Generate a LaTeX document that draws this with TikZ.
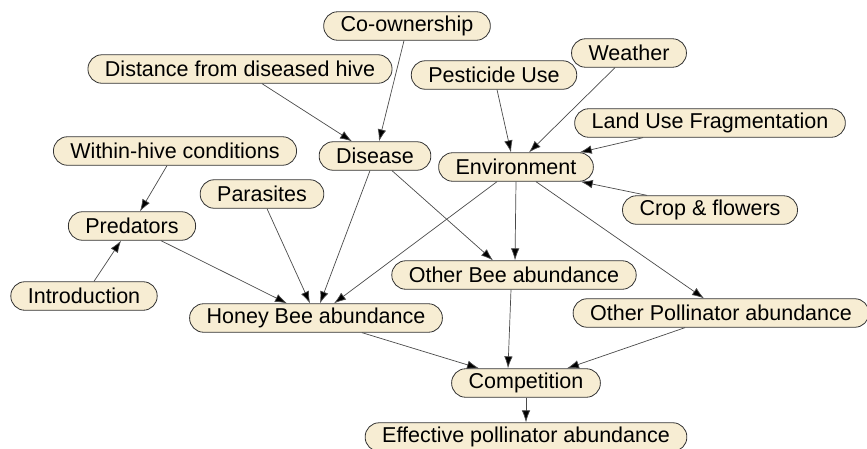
\documentclass[tikz,border=0pt]{standalone}
\usepackage{fontspec}
\setmainfont{Liberation Sans}
\usetikzlibrary{arrows.meta}
\definecolor{boxfill}{HTML}{F7EDD3}
\definecolor{boxline}{HTML}{333333}
\definecolor{linkline}{HTML}{4A4A4A}
\tikzset{
  factor/.style={draw=boxline, fill=boxfill, line width=0.8pt,
    rounded corners=14pt, minimum height=28.5pt, inner xsep=17pt, inner ysep=0pt,
    font=\fontsize{21.5}{24}\selectfont, text=black},
  link/.style={draw=linkline, line width=0.7pt,
    -{Latex[length=12pt,width=8.5pt,fill=black]}}
}
\begin{document}
\begin{tikzpicture}[x=1pt,y=-1pt]
\useasboundingbox (0,0) rectangle (867,448);

% factors
\node[factor] (coown)  at (407,26)  {Co-ownership};
\node[factor] (dist)   at (240,69)  {Distance from diseased hive};
\node[factor] (pest)   at (494,75)  {Pesticide Use};
\node[factor] (weath)  at (629,53)  {Weather};
\node[factor] (land)   at (710,123) {Land Use Fragmentation};
\node[factor] (env)    at (516,167) {Environment};
\node[factor] (crop)   at (710,210) {Crop \& flowers};
\node[factor] (within) at (175,151) {Within-hive conditions};
\node[factor] (dis)    at (375,156) {Disease};
\node[factor] (para)   at (262,194) {Parasites};
\node[factor] (pred)   at (132,226) {Predators};
\node[factor] (intro)  at (84,296)  {Introduction};
\node[factor] (honey)  at (316,318) {Honey Bee abundance};
\node[factor] (obee)   at (514,275) {Other Bee abundance};
\node[factor] (opoll)  at (721,313) {Other Pollinator abundance};
\node[factor] (comp)   at (526,383) {Competition};
\node[factor] (eff)    at (526,437) {Effective pollinator abundance};

% influences
\draw[link] ([xshift=-3pt]coown.south) -- ([xshift=4pt]dis.north);
\draw[link] ([xshift=22pt]dist.south) -- ([xshift=-23pt]dis.north);
\draw[link] ([xshift=3pt]pest.south) -- ([xshift=-5pt]env.north);
\draw[link] ([xshift=-14pt]weath.south) -- ([xshift=13pt]env.north);
\draw[link] ([xshift=-67pt]land.south) -- ([xshift=-14pt]env.north east);
\draw[link] ([xshift=-63pt]crop.north) -- ([xshift=-13pt]env.south east);
\draw[link] ([xshift=-8pt]within.south) -- ([xshift=8pt]pred.north);
\draw[link] ([xshift=10pt]intro.north) -- ([xshift=-11pt]pred.south);
\draw[link] ([xshift=29pt]pred.south) -- ([xshift=-29pt]honey.north);
\draw[link] ([xshift=5pt]para.south) -- ([xshift=-6pt]honey.north);
\draw[link] ([xshift=-5pt]dis.south) -- ([xshift=4pt]honey.north);
\draw[link] ([xshift=-19pt]env.south) -- ([xshift=18pt]honey.north);
\draw[link] ([xshift=17pt]dis.south) -- ([xshift=-21pt]obee.north);
\draw[link] (env.south) -- ([xshift=1pt]obee.north);
\draw[link] ([xshift=20pt]env.south) -- ([xshift=-17pt]opoll.north);
\draw[link] ([xshift=46pt]honey.south) -- ([xshift=-47pt]comp.north);
\draw[link] ([xshift=-3pt]obee.south) -- ([xshift=-18pt]comp.north);
\draw[link] ([xshift=-36pt]opoll.south) -- ([xshift=41pt]comp.north);
\draw[link] (comp.south) -- (eff.north);
\end{tikzpicture}
\end{document}
